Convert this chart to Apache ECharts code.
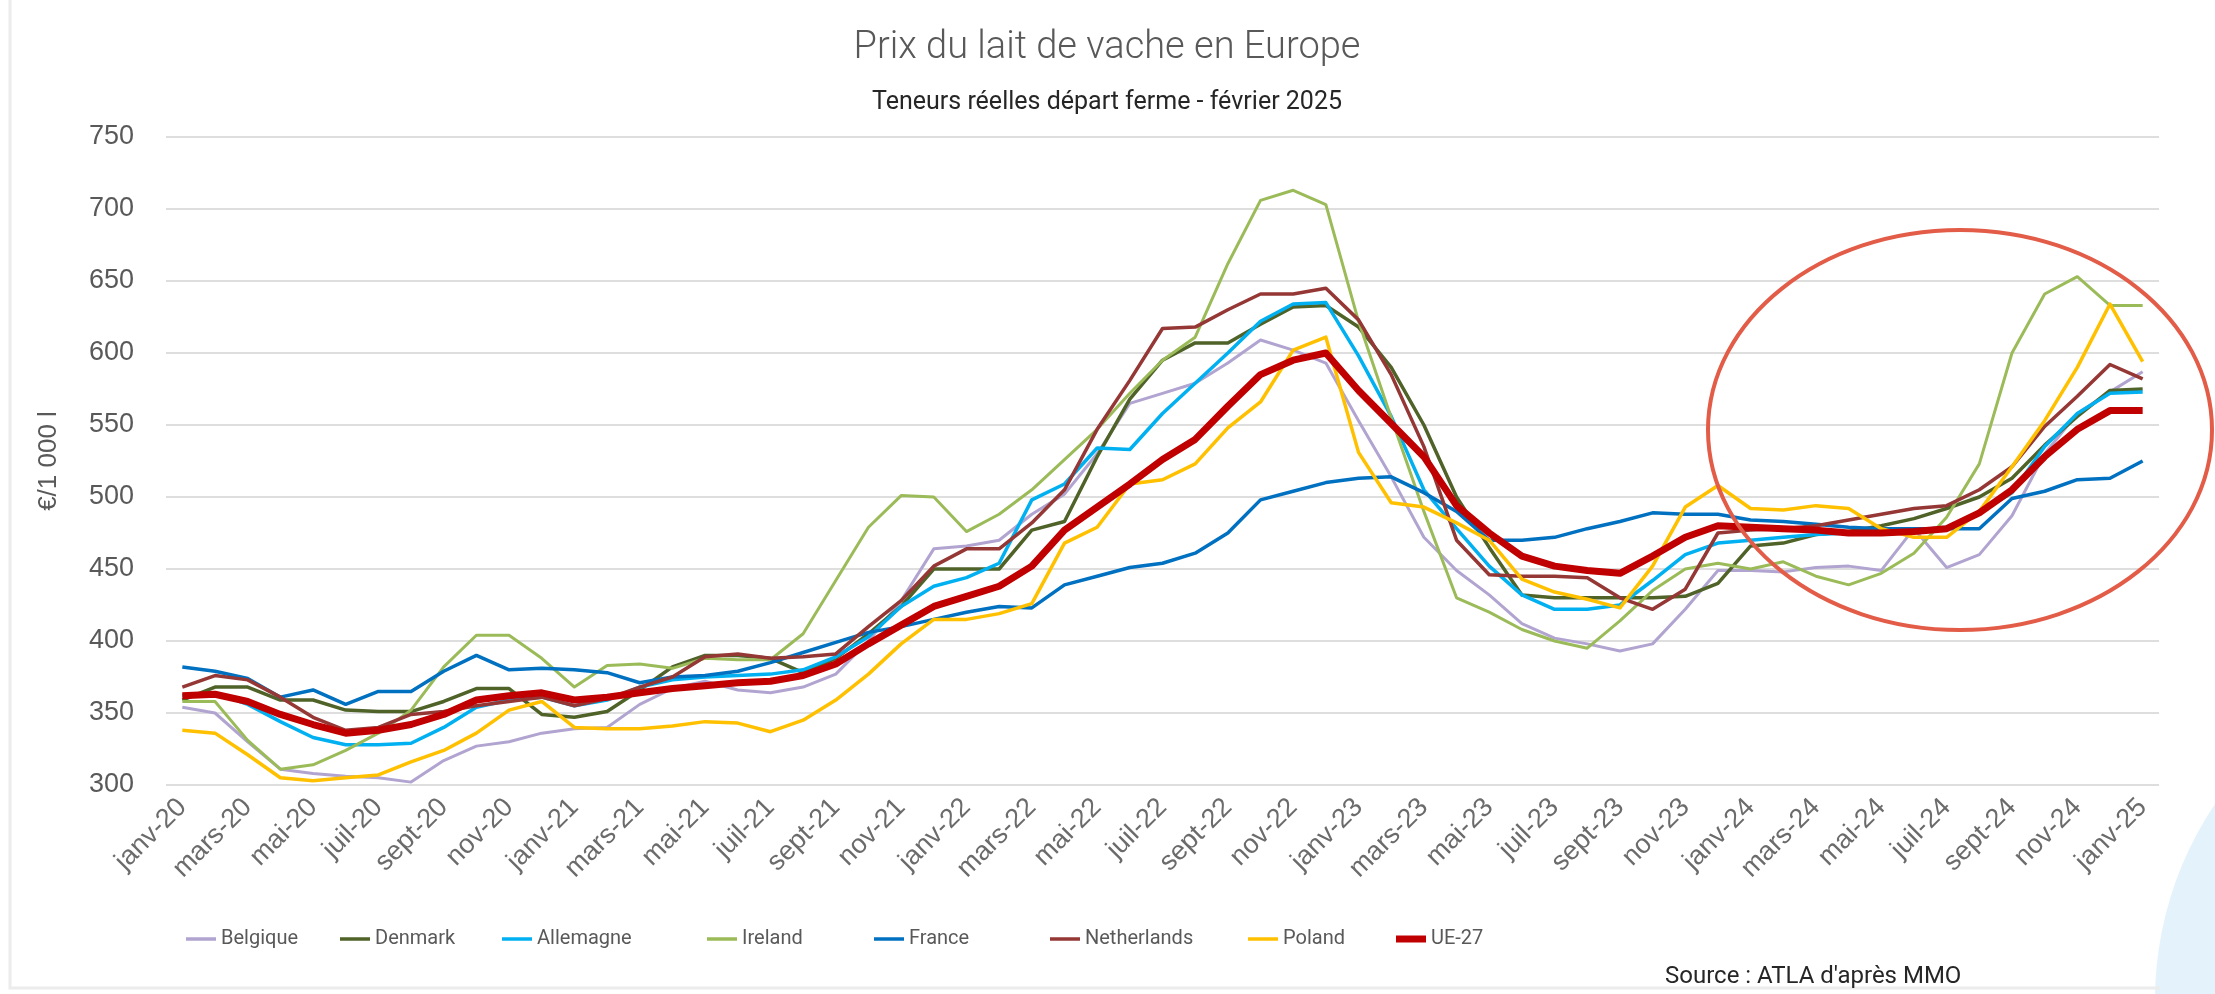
<!DOCTYPE html>
<html>
<head>
<meta charset="utf-8">
<title>Prix du lait de vache en Europe</title>
<script src="https://cdn.jsdelivr.net/npm/echarts@6/dist/echarts.min.js"></script>
<style>
  html, body { margin: 0; padding: 0; background: #ffffff; }
  #chart { width: 2215px; height: 994px; }
</style>
</head>
<body>
<div id="chart"></div>
<script>
// months janv-20 .. janv-25 (monthly, labels shown every 2 months)
const categories = [
  'janv-20', 'févr-20', 'mars-20', 'avr-20', 'mai-20', 'juin-20', 'juil-20', 'août-20', 'sept-20', 'oct-20', 'nov-20', 'déc-20',
  'janv-21', 'févr-21', 'mars-21', 'avr-21', 'mai-21', 'juin-21', 'juil-21', 'août-21', 'sept-21', 'oct-21', 'nov-21', 'déc-21',
  'janv-22', 'févr-22', 'mars-22', 'avr-22', 'mai-22', 'juin-22', 'juil-22', 'août-22', 'sept-22', 'oct-22', 'nov-22', 'déc-22',
  'janv-23', 'févr-23', 'mars-23', 'avr-23', 'mai-23', 'juin-23', 'juil-23', 'août-23', 'sept-23', 'oct-23', 'nov-23', 'déc-23',
  'janv-24', 'févr-24', 'mars-24', 'avr-24', 'mai-24', 'juin-24', 'juil-24', 'août-24', 'sept-24', 'oct-24', 'nov-24', 'déc-24',
  'janv-25'
]

// €/1 000 l
const belgique = [
  354, 350, 330, 311, 308, 306, 305, 302, 317, 327, 330, 336,
  339, 340, 356, 367, 372, 366, 364, 368, 377, 400, 428, 464,
  466, 470, 488, 502, 530, 565, 572, 579, 593, 609, 602, 593,
  553, 514, 472, 449, 432, 412, 402, 398, 393, 398, 422, 449,
  449, 448, 451, 452, 449, 478, 451, 460, 487, 530, 558, 573,
  587
]
const denmark = [
  359, 368, 368, 359, 359, 352, 351, 351, 358, 367, 367, 349,
  347, 351, 366, 382, 390, 390, 388, 378, 388, 405, 424, 450,
  450, 450, 477, 483, 528, 568, 595, 607, 607, 620, 632, 633,
  618, 590, 550, 500, 465, 432, 430, 430, 430, 430, 431, 440,
  466, 468, 474, 476, 480, 485, 492, 500, 513, 536, 556, 574,
  575
]
const allemagne = [
  362, 364, 356, 344, 333, 328, 328, 329, 340, 354, 359, 361,
  355, 359, 368, 373, 375, 376, 377, 380, 389, 403, 424, 438,
  444, 454, 498, 509, 534, 533, 558, 579, 600, 622, 634, 635,
  598, 556, 505, 478, 452, 432, 422, 422, 425, 442, 460, 468,
  470, 472, 474, 475, 476, 477, 479, 489, 503, 535, 558, 572,
  573
]
const ireland = [
  358, 358, 331, 311, 314, 324, 336, 352, 382, 404, 404, 388,
  368, 383, 384, 381, 388, 387, 387, 405, 442, 479, 501, 500,
  476, 488, 505, 526, 547, 572, 595, 611, 662, 706, 713, 703,
  622, 555, 490, 430, 420, 408, 400, 395, 414, 435, 450, 454,
  450, 455, 445, 439, 447, 461, 486, 523, 600, 641, 653, 633,
  633
]
const france = [
  382, 379, 374, 361, 366, 356, 365, 365, 379, 390, 380, 381,
  380, 378, 371, 375, 376, 379, 385, 392, 399, 406, 410, 415,
  420, 424, 423, 439, 445, 451, 454, 461, 475, 498, 504, 510,
  513, 514, 503, 490, 470, 470, 472, 478, 483, 489, 488, 488,
  484, 483, 481, 479, 478, 478, 478, 478, 499, 504, 512, 513,
  525
]
const netherlands = [
  368, 376, 373, 361, 347, 338, 340, 349, 351, 355, 358, 361,
  355, 360, 368, 375, 389, 391, 388, 389, 391, 410, 428, 452,
  464, 464, 482, 505, 547, 581, 617, 618, 630, 641, 641, 645,
  623, 585, 535, 470, 446, 445, 445, 444, 430, 422, 436, 475,
  477, 478, 480, 484, 488, 492, 494, 505, 521, 549, 570, 592,
  582
]
const poland = [
  338, 336, 321, 305, 303, 305, 307, 316, 324, 336, 352, 358,
  340, 339, 339, 341, 344, 343, 337, 345, 359, 377, 398, 415,
  415, 419, 426, 468, 479, 509, 512, 523, 548, 566, 602, 611,
  531, 496, 493, 482, 470, 443, 434, 429, 423, 452, 493, 508,
  492, 491, 494, 492, 478, 472, 472, 490, 521, 553, 590, 634,
  594
]
const ue27 = [
  362, 363, 358, 349, 342, 336, 338, 342, 349, 359, 362, 364,
  359, 361, 364, 367, 369, 371, 372, 376, 384, 398, 411, 424,
  431, 438, 452, 477, 493, 509, 526, 540, 563, 585, 595, 600,
  574, 551, 528, 494, 475, 459, 452, 449, 447, 459, 472, 480,
  479, 478, 477, 475, 475, 476, 478, 489, 505, 528, 547, 560,
  560
]

const seriesDefs = [
  { name: 'Belgique', data: belgique, color: '#b1a4d0', width: 3 },
  { name: 'Denmark', data: denmark, color: '#4f6228', width: 3.5 },
  { name: 'Allemagne', data: allemagne, color: '#00b0f0', width: 3.5 },
  { name: 'Ireland', data: ireland, color: '#9bbb59', width: 3 },
  { name: 'France', data: france, color: '#0070c0', width: 3.5 },
  { name: 'Netherlands', data: netherlands, color: '#953735', width: 3.5 },
  { name: 'Poland', data: poland, color: '#ffc000', width: 3.5 },
  { name: 'UE-27', data: ue27, color: '#c00000', width: 7 }
]

// legend entries are not evenly spaced in the original, so one legend per entry
const legendLeft = [181, 335, 497, 702, 869, 1045, 1243, 1391]

const thinIcon = 'path://M0,0 H30 V3.5 H0 Z'
const thickIcon = 'path://M0,0 H30 V7 H0 Z'

const chart = echarts.init(document.getElementById('chart'))

const option = {
  animation: false,
  backgroundColor: '#ffffff',
  title: [
    {
      text: 'Prix du lait de vache en Europe',
      left: 1102,
      top: 24,
      textAlign: 'center',
      textStyle: { fontFamily: 'Roboto', fontWeight: 300, fontSize: 38, color: '#595959' }
    },
    {
      text: 'Teneurs réelles départ ferme - février 2025',
      left: 1102,
      top: 85,
      textAlign: 'center',
      textStyle: { fontFamily: 'Roboto', fontWeight: 'normal', fontSize: 25, color: '#262626' }
    },
    {
      text: 'Source : ATLA d\'après MMO',
      left: 1660,
      top: 960,
      textStyle: { fontFamily: 'Roboto', fontWeight: 'normal', fontSize: 24, color: '#262626' }
    }
  ],
  grid: { left: 166, right: 56, top: 137, bottom: 209 },
  legend: seriesDefs.map((s, i) => ({
    left: legendLeft[i],
    top: 924,
    itemWidth: 30,
    itemHeight: 14,
    icon: s.width > 5 ? thickIcon : thinIcon,
    textStyle: { fontFamily: 'Roboto', fontSize: 20, color: '#595959' },
    data: [s.name]
  })),
  xAxis: {
    type: 'category',
    data: categories,
    boundaryGap: true,
    axisLine: { show: false },
    axisTick: { show: false },
    axisLabel: {
      interval: 1,
      rotate: 45,
      margin: 18,
      fontFamily: 'Liberation Sans',
      fontSize: 27,
      color: '#6b6b6b'
    }
  },
  yAxis: {
    type: 'value',
    min: 300,
    max: 750,
    interval: 50,
    name: '€/1 000 l',
    nameLocation: 'middle',
    nameGap: 104,
    nameTextStyle: { fontFamily: 'Liberation Sans', fontSize: 26, color: '#595959' },
    axisLine: { show: false },
    axisTick: { show: false },
    axisLabel: { margin: 32, fontFamily: 'Liberation Sans', fontSize: 27, color: '#595959' },
    splitLine: { lineStyle: { color: '#dedede', width: 2 } }
  },
  series: seriesDefs.map((s, i) => ({
    type: 'line',
    name: s.name,
    data: s.data,
    symbol: 'none',
    z: 2 + i,
    lineStyle: { width: s.width, color: s.color, join: 'round' },
    itemStyle: { color: s.color },
    emphasis: { disabled: true }
  })),
  graphic: [
    {
      // light blue decoration in the bottom right corner
      type: 'circle',
      shape: { cx: 2505, cy: 1000, r: 350 },
      style: { fill: '#e4f3fb' },
      z: 0
    },
    {
      // faint frame of the pasted chart
      type: 'polyline',
      shape: { points: [[10, 0], [10, 988], [2160, 988]] },
      style: { fill: 'none', stroke: '#ececec', lineWidth: 3 },
      z: 0
    },
    {
      // hand drawn highlight round the last months
      type: 'ellipse',
      shape: { cx: 1960, cy: 430, rx: 252, ry: 200 },
      style: { fill: 'none', stroke: '#e25c48', lineWidth: 4 },
      z: 100
    }
  ]
}

chart.setOption(option)
</script>
</body>
</html>
